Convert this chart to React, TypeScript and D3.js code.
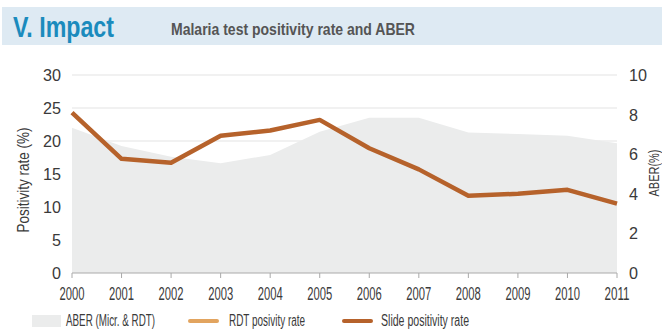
import { useEffect, useRef } from 'react'
import * as d3 from 'd3'

const years = [2000, 2001, 2002, 2003, 2004, 2005, 2006, 2007, 2008, 2009, 2010, 2011]
// ABER (%), right axis
const aber = [7.34, 6.41, 5.87, 5.54, 5.96, 7.14, 7.84, 7.84, 7.1, 7.02, 6.93, 6.55]
// slide positivity rate (%), left axis
const slidePositivity = [24.3, 17.3, 16.7, 20.8, 21.6, 23.2, 18.9, 15.7, 11.7, 12.0, 12.6, 10.5]
const leftTicks = [0, 5, 10, 15, 20, 25, 30]
const rightTicks = [0, 2, 4, 6, 8, 10]

const W = 662
const H = 331
const FONT = "'Liberation Sans', Arial, sans-serif"
const LINE_COLOR = '#b6622b'
const RDT_COLOR = '#e2a45f'
const AREA_COLOR = '#ebecec'
const INK = '#3a3a3a'

type Sel = d3.Selection<SVGSVGElement, unknown, null, undefined>

// condensed text: the original uses a narrow face, so squeeze to the measured width
function txt(svg: Sel, x: number, y: number, s: string, size: number, len: number,
  anchor = 'start', fill = INK, weight = 'normal', rotate = 0) {
  const t = svg.append('text')
    .attr('font-family', FONT).attr('font-size', size).attr('fill', fill)
    .attr('font-weight', weight).attr('text-anchor', anchor)
    .attr('textLength', len).attr('lengthAdjust', 'spacingAndGlyphs')
    .text(s)
  if (rotate) t.attr('transform', `translate(${x},${y}) rotate(${rotate})`)
  else t.attr('x', x).attr('y', y)
  return t
}

export default function App() {
  const svgRef = useRef<SVGSVGElement>(null)

  useEffect(() => {
    if (!svgRef.current) return
    const svg = d3.select(svgRef.current) as Sel
    svg.selectAll('*').remove()

    const x = d3.scaleLinear().domain([2000, 2011]).range([72, 617])
    const yL = d3.scaleLinear().domain([0, 30]).range([273, 75])
    const yR = d3.scaleLinear().domain([0, 10]).range([273, 75])

    // header band
    svg.append('rect').attr('x', 2).attr('y', 7).attr('width', W - 2).attr('height', 38).attr('fill', '#deeaf3')
    txt(svg, 13, 37, 'V. Impact', 30, 101, 'start', '#1b8bbd', 'bold')
    txt(svg, 171, 35, 'Malaria test positivity rate and ABER', 17, 244, 'start', '#555', 'bold')

    // gridlines
    svg.selectAll('.grid').data(leftTicks.filter(t => t > 0)).join('line')
      .attr('x1', x(2000)).attr('x2', x(2011))
      .attr('y1', d => yL(d)).attr('y2', d => yL(d))
      .attr('stroke', '#e3e3e3').attr('stroke-width', 1.2)

    // ABER area
    const area = d3.area<number>()
      .x((_, i) => x(years[i]))
      .y0(yR(0))
      .y1(d => yR(d))
    svg.append('path').datum(aber).attr('d', area).attr('fill', AREA_COLOR)

    // x axis
    svg.append('line').attr('x1', x(2000)).attr('x2', x(2011)).attr('y1', yL(0)).attr('y2', yL(0))
      .attr('stroke', '#aaa').attr('stroke-width', 1)
    svg.selectAll('.xtick').data(years).join('line')
      .attr('x1', d => x(d)).attr('x2', d => x(d))
      .attr('y1', yL(0)).attr('y2', yL(0) + 5)
      .attr('stroke', '#aaa')
    years.forEach(yr => txt(svg, x(yr), 300, String(yr), 18, 25, 'middle'))

    // y axes labels
    leftTicks.forEach(t => txt(svg, 61, yL(t) + 6, String(t), 17, String(t).length * 9, 'end'))
    rightTicks.forEach(t => txt(svg, 629, yR(t) + 6, String(t), 17, String(t).length * 9, 'start'))

    txt(svg, 29, 180, 'Positivity rate (%)', 16, 105, 'middle', INK, 'normal', -90)
    txt(svg, 659, 173, 'ABER(%)', 15, 47, 'middle', INK, 'normal', -90)

    // slide positivity line
    const line = d3.line<number>()
      .x((_, i) => x(years[i]))
      .y(d => yL(d))
    svg.append('path').datum(slidePositivity).attr('d', line)
      .attr('fill', 'none').attr('stroke', LINE_COLOR).attr('stroke-width', 4.5)
      .attr('stroke-linejoin', 'round')

    // legend
    const ly = 321
    svg.append('rect').attr('x', 32).attr('y', ly - 6).attr('width', 29).attr('height', 12).attr('fill', AREA_COLOR)
    txt(svg, 66, ly + 5, 'ABER (Micr. & RDT)', 16, 89)
    svg.append('line').attr('x1', 190).attr('x2', 217).attr('y1', ly).attr('y2', ly)
      .attr('stroke', RDT_COLOR).attr('stroke-width', 4).attr('stroke-linecap', 'round')
    txt(svg, 229, ly + 5, 'RDT posivity rate', 16, 76)
    svg.append('line').attr('x1', 344).attr('x2', 371).attr('y1', ly).attr('y2', ly)
      .attr('stroke', LINE_COLOR).attr('stroke-width', 4).attr('stroke-linecap', 'round')
    txt(svg, 381, ly + 5, 'Slide positivity rate', 16, 88)
  }, [])

  return (
    <svg ref={svgRef} width={W} height={H}
      style={{ position: 'absolute', left: 0, top: 0, display: 'block', background: '#fff' }} />
  )
}
